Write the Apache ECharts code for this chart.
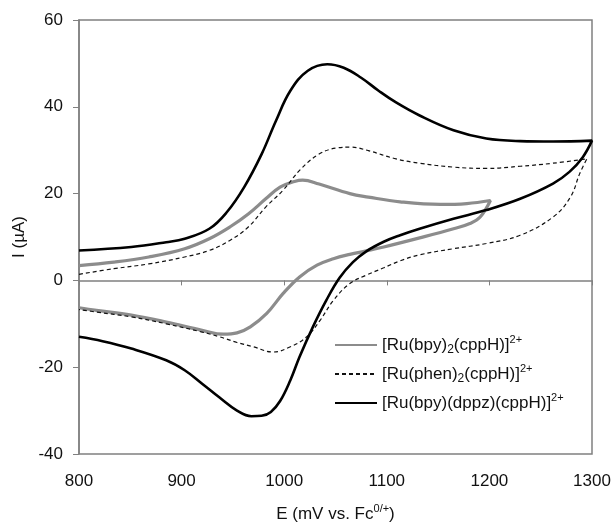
<!DOCTYPE html>
<html>
<head>
<meta charset="utf-8">
<script src="https://cdn.jsdelivr.net/npm/echarts@6/dist/echarts.min.js"></script>
<style>
  html, body { margin: 0; padding: 0; background: #fff; }
  #main { width: 614px; height: 525px; }
</style>
</head>
<body>
<div id="main"></div>
<script>
// [Ru(bpy)2(cppH)]2+  (grey) - forward scan then back
var bpyE = [800, 834, 868, 903, 927, 947, 965, 982, 996, 1010, 1018, 1034, 1064, 1082, 1113, 1152, 1178, 1201,
            1191, 1181, 1165, 1132, 1097, 1080, 1064, 1048, 1032, 1015, 999, 983, 967, 954, 941, 920, 885, 851, 817, 800];
var bpyI = [3.4, 4.2, 5.4, 7.3, 9.6, 12.3, 15.3, 18.8, 21.5, 22.8, 23.1, 22.2, 20.0, 19.2, 18.1, 17.5, 17.7, 18.4,
            14.6, 13.1, 11.9, 9.8, 7.7, 6.8, 6.0, 5.0, 3.5, 0.8, -3.0, -7.6, -10.7, -12.1, -12.4, -11.5, -9.6, -8.0, -6.9, -6.3];

// [Ru(phen)2(cppH)]2+  (dashed)
var phenE = [800, 834, 868, 903, 927, 947, 965, 982, 999, 1016, 1034, 1051, 1065, 1082, 1109, 1132, 1165, 1197, 1230, 1262, 1295,
             1288, 1279, 1262, 1230, 1197, 1165, 1132, 1113, 1097, 1080, 1064, 1048, 1035, 1022, 1006, 989, 970, 954, 937, 920, 885, 851, 817, 800];
var phenI = [1.4, 2.7, 3.8, 5.4, 6.9, 9.2, 12.3, 16.9, 20.8, 25.6, 29.1, 30.5, 30.7, 29.9, 28.0, 27.0, 26.1, 25.8, 26.3, 27.0, 28.0,
             24.6, 19.2, 14.6, 10.4, 8.5, 7.3, 5.9, 4.5, 2.9, 1.2, -0.7, -4.6, -9.2, -13.0, -15.3, -16.5, -15.3, -14.3, -13.0, -11.9, -10.0, -8.4, -7.3, -6.7];

// [Ru(bpy)(dppz)(cppH)]2+  (black)
var dppzE = [800, 851, 885, 903, 927, 944, 961, 978, 992, 1006, 1023, 1042, 1058, 1075, 1092, 1109, 1132, 1165, 1197, 1230, 1262, 1300,
             1291, 1278, 1262, 1230, 1197, 1165, 1132, 1113, 1097, 1080, 1067, 1054, 1041, 1028, 1015, 1006, 996, 987, 978, 968, 954, 937, 920, 903, 885, 851, 823, 800];
var dppzI = [6.9, 7.7, 8.8, 9.6, 11.9, 15.7, 21.5, 29.1, 36.8, 43.7, 48.3, 49.8, 49.0, 46.7, 43.7, 41.0, 38.0, 34.6, 32.7, 32.1, 32.0, 32.2,
             28.4, 25.0, 22.3, 18.8, 16.2, 14.2, 11.9, 10.4, 8.9, 6.7, 4.2, 0.6, -4.6, -10.7, -17.6, -23.0, -27.8, -30.3, -31.2, -31.3, -30.0, -27.0, -23.8, -20.7, -18.4, -15.7, -14.0, -13.0];

var names = ['[Ru(bpy)2(cppH)]2+', '[Ru(phen)2(cppH)]2+', '[Ru(bpy)(dppz)(cppH)]2+'];
var xTicks = [800, 900, 1000, 1100, 1200, 1300];
var yTicks = [-40, -20, 0, 20, 40, 60];

function zip(a, b) {
    var out = [];
    for (var i = 0; i < a.length; i++) out.push([a[i], b[i]]);
    return out;
}

var FONT = 'Liberation Sans';
var legendRich = {
    a: { fontSize: 17, fontFamily: FONT, color: '#111', lineHeight: 22, verticalAlign: 'middle' },
    sub: { fontSize: 12, fontFamily: FONT, color: '#111', lineHeight: 22, verticalAlign: 'bottom' },
    sup: { fontSize: 11, fontFamily: FONT, color: '#111', lineHeight: 22, verticalAlign: 'top' }
};
var legendText = {};
legendText[names[0]] = '{a|[Ru(bpy)}{sub|2}{a|(cppH)]}{sup|2+}';
legendText[names[1]] = '{a|[Ru(phen)}{sub|2}{a|(cppH)]}{sup|2+}';
legendText[names[2]] = '{a|[Ru(bpy)(dppz)(cppH)]}{sup|2+}';

var myChart = echarts.init(document.getElementById('main'));

var option = {
    animation: false,
    backgroundColor: '#fff',
    grid: {
        left: 79, top: 20, right: 22, bottom: 71,
        outerBoundsMode: 'none', containLabel: false,
        show: true, borderColor: '#808080', borderWidth: 1.5
    },
    legend: {
        orient: 'vertical',
        left: 329, top: 329,
        itemWidth: 42, itemHeight: 10, itemGap: 7,
        data: names,
        itemStyle: { opacity: 0 },
        formatter: function (n) { return legendText[n]; },
        textStyle: { rich: legendRich }
    },
    xAxis: {
        type: 'value', min: 800, max: 1300, interval: 100,
        name: '{a|E (mV vs. Fc}{sup|0/+}{a|)}',
        nameLocation: 'middle', nameGap: 49,
        nameTextStyle: {
            rich: {
                a: { fontSize: 17, fontFamily: FONT, color: '#111', lineHeight: 22, verticalAlign: 'middle' },
                sup: { fontSize: 11, fontFamily: FONT, color: '#111', lineHeight: 22, verticalAlign: 'top' }
            }
        },
        axisLine: { lineStyle: { color: '#808080', width: 1.5 } },
        axisTick: { show: true, inside: false, length: 5, lineStyle: { color: '#808080' } },
        axisLabel: {
            margin: 19, fontSize: 17, fontFamily: FONT, color: '#111',
            formatter: function (v) { return String(v); }
        },
        splitLine: { show: false }
    },
    yAxis: {
        type: 'value', min: -40, max: 60, interval: 20,
        name: 'I (\u00b5A)',
        nameLocation: 'middle', nameGap: 41, nameRotate: 90,
        nameTextStyle: { fontSize: 17, fontFamily: FONT, color: '#111' },
        axisLine: { show: true, lineStyle: { color: '#808080', width: 1.5 } },
        axisTick: { show: true, inside: false, length: 6, lineStyle: { color: '#808080' } },
        axisLabel: {
            margin: 16, fontSize: 17, fontFamily: FONT, color: '#111',
            formatter: function (v) { return String(v); }
        },
        splitLine: { show: false }
    },
    series: [
        {
            name: names[0], type: 'line', symbol: 'none', smooth: 0.4,
            data: zip(bpyE, bpyI),
            lineStyle: { color: '#8c8c8c', width: 3.2 },
            itemStyle: { color: '#8c8c8c' }
        },
        {
            name: names[1], type: 'line', symbol: 'none', smooth: 0.4,
            data: zip(phenE, phenI),
            lineStyle: { color: '#111', width: 1.2, type: [4, 3] },
            itemStyle: { color: '#111' }
        },
        {
            name: names[2], type: 'line', symbol: 'none', smooth: 0.4,
            data: zip(dppzE, dppzI),
            lineStyle: { color: '#000', width: 2.6 },
            itemStyle: { color: '#000' }
        }
    ]
};

myChart.setOption(option);
</script>
</body>
</html>
